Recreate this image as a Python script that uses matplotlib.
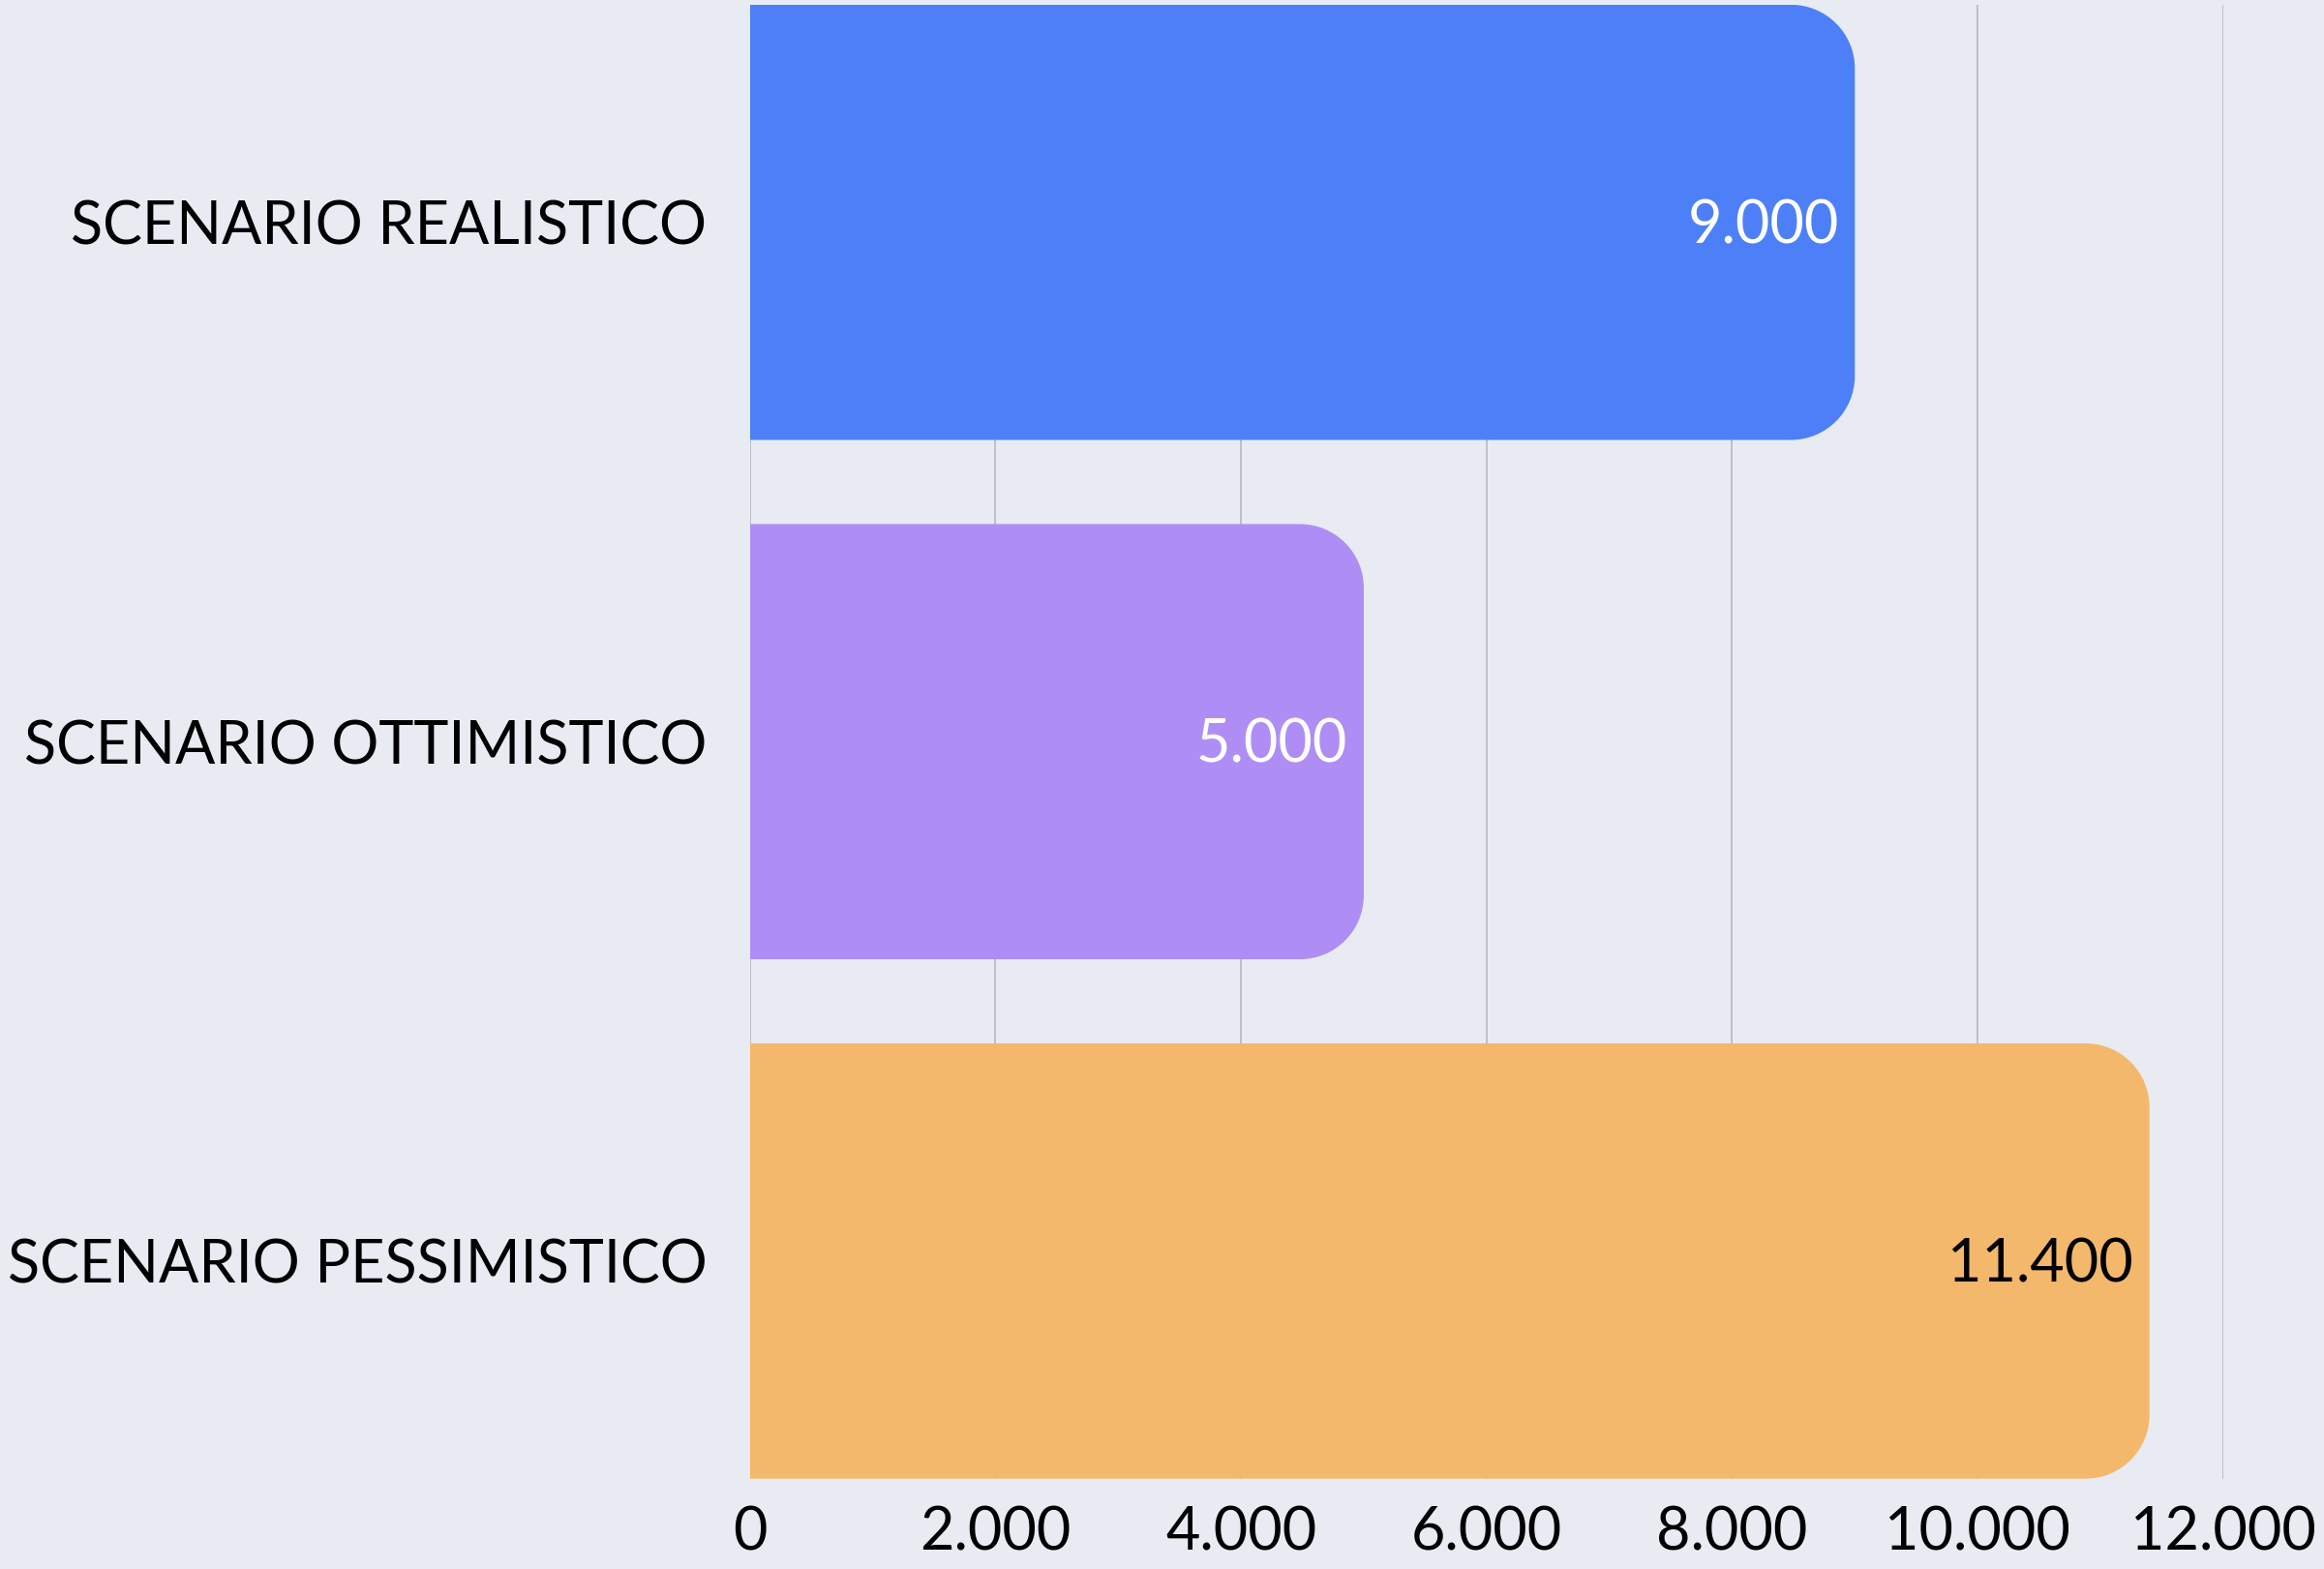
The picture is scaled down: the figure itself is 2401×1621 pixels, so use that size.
import numpy as np
import matplotlib.pyplot as plt
from matplotlib.path import Path
from matplotlib.patches import PathPatch

# dati
categorie = ['SCENARIO REALISTICO', 'SCENARIO OTTIMISTICO', 'SCENARIO PESSIMISTICO']
valori = [9000, 5000, 11400]
etichette_valori = ['9.000', '5.000', '11.400']
tick_x = [0, 2000, 4000, 6000, 8000, 10000, 12000]
tick_x_labels = ['0', '2.000', '4.000', '6.000', '8.000', '10.000', '12.000']

colori = ['#4D80F8', '#AE8EF4', '#F3B86C']
colori_testo = ['white', 'white', 'black']
sfondo = '#E8EBF2'

plt.rcParams['font.family'] = ['Lato', 'DejaVu Sans']

fig = plt.figure(figsize=(24.01, 16.21), dpi=100, facecolor=sfondo)
ax = fig.add_axes([0.3227, 0.0576, 0.9566 - 0.3227, 0.997 - 0.0576])
ax.set_facecolor(sfondo)

h = 0.838
y = np.arange(len(categorie))
ax.set_xlim(0, 12000)
ax.set_ylim(len(categorie) - 1 + h / 2, -h / 2)

bars = ax.barh(y, valori, height=h, color=colori, zorder=2)

# angoli arrotondati solo a destra
fig.canvas.draw()
bb = ax.get_window_extent()
ppx = bb.width / 12000.0
ppy = bb.height / (len(categorie) - 1 + h)
r_px = 66
rx = r_px / ppx
ry = r_px / ppy
k = 0.5523

for b, c in zip(bars, colori):
    x0, y0 = b.get_x(), b.get_y()
    w, hh = b.get_width(), b.get_height()
    x1, y1 = x0 + w, y0 + hh
    verts = [
        (x0, y0),
        (x1 - rx, y0),
        (x1 - rx + k * rx, y0), (x1, y0 + ry - k * ry), (x1, y0 + ry),
        (x1, y1 - ry),
        (x1, y1 - ry + k * ry), (x1 - rx + k * rx, y1), (x1 - rx, y1),
        (x0, y1),
        (x0, y0),
    ]
    codes = [Path.MOVETO, Path.LINETO,
             Path.CURVE4, Path.CURVE4, Path.CURVE4,
             Path.LINETO,
             Path.CURVE4, Path.CURVE4, Path.CURVE4,
             Path.LINETO, Path.CLOSEPOLY]
    b.set_visible(False)
    ax.add_patch(PathPatch(Path(verts, codes), facecolor=c, edgecolor='none', zorder=2))

for i, v in enumerate(valori):
    ax.annotate(etichette_valori[i], (v, i), xytext=(-12, -3), textcoords='offset points',
                ha='right', va='center', fontsize=44, color=colori_testo[i], zorder=3)

ax.set_xticks(tick_x)
ax.set_xticklabels(tick_x_labels)
ax.set_yticks(y)
ax.set_yticklabels(categorie)
ax.tick_params(axis='x', length=0, pad=20, labelsize=44, colors='black')
ax.tick_params(axis='y', length=0, pad=32, labelsize=44, colors='black')
ax.grid(axis='x', color='#B2B4BA', linewidth=1.1, zorder=0)
ax.set_axisbelow(True)
for s in ax.spines.values():
    s.set_visible(False)

fig.savefig('out.png', dpi=100, facecolor=sfondo)
